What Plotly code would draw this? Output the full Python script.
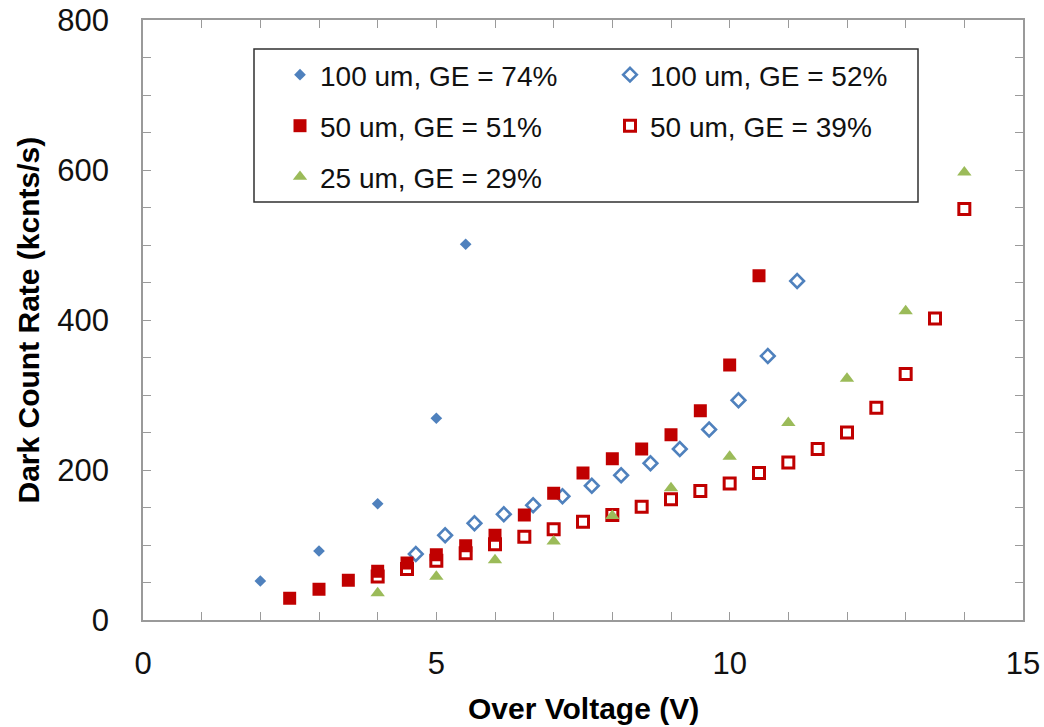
import plotly.graph_objects as go

# Dark count rate (kcnts/s) versus over voltage (V) for several SPAD diameters
ov_100_74 = [2, 3, 4, 5, 5.5]
dcr_100_74 = [52, 92, 155, 269, 501]

ov_100_52 = [4.65, 5.15, 5.65, 6.15, 6.65, 7.15, 7.65, 8.15, 8.65, 9.15, 9.65, 10.15, 10.65, 11.15]
dcr_100_52 = [88, 113, 129, 141, 153, 165, 179, 193, 209, 228, 254, 293, 352, 452]

ov_50_51 = [2.5, 3, 3.5, 4, 4.5, 5, 5.5, 6, 6.5, 7, 7.5, 8, 8.5, 9, 9.5, 10, 10.5]
dcr_50_51 = [29, 41, 53, 65, 76, 87, 99, 113, 140, 169, 196, 215, 228, 247, 279, 340, 459]

ov_50_39 = [4, 4.5, 5, 5.5, 6, 6.5, 7, 7.5, 8, 8.5, 9, 9.5, 10, 10.5, 11, 11.5, 12, 12.5, 13, 13.5, 14]
dcr_50_39 = [58, 68, 79, 89, 101, 111, 121, 131, 140, 151, 161, 172, 182, 196, 210, 228, 250, 283, 328, 402, 548]

ov_25_29 = [4, 5, 6, 7, 8, 9, 10, 11, 12, 13, 14]
dcr_25_29 = [36, 58, 80, 105, 139, 176, 218, 263, 322, 412, 597]

series_names = [
    "100 um, GE = 74%",
    "100 um, GE = 52%",
    "50 um, GE = 51%",
    "50 um, GE = 39%",
    "25 um, GE = 29%",
]

x_tick_vals = list(range(0, 16))
x_tick_text = [str(v) if v % 5 == 0 else "" for v in x_tick_vals]
y_tick_vals = list(range(0, 801, 50))
y_tick_text = [str(v) if v % 200 == 0 else "" for v in y_tick_vals]

BLUE = "#4F81BD"
RED = "#C00000"
GREEN = "#9BBB59"
AXIS_GREY = "#9A9A9A"

W, H = 1044, 727
L, R, T, B = 143, 21, 20, 107
PW, PH = W - L - R, H - T - B


def px_to_paper_x(px):
    return (px - L) / PW


def px_to_paper_y(py):
    return (H - B - py) / PH


fig = go.Figure()

fig.add_trace(go.Scatter(
    x=ov_100_74, y=dcr_100_74, mode="markers", name=series_names[0],
    marker=dict(symbol="diamond", size=9, color=BLUE, line=dict(width=0)),
    legend="legend",
))
fig.add_trace(go.Scatter(
    x=ov_100_52, y=dcr_100_52, mode="markers", name=series_names[1],
    marker=dict(symbol="diamond-open", size=10.5, color=BLUE, line=dict(width=2.6, color=BLUE)),
    legend="legend2",
))
fig.add_trace(go.Scatter(
    x=ov_50_51, y=dcr_50_51, mode="markers", name=series_names[2],
    marker=dict(symbol="square", size=13, color=RED, line=dict(width=0)),
    legend="legend3",
))
fig.add_trace(go.Scatter(
    x=ov_50_39, y=dcr_50_39, mode="markers", name=series_names[3],
    marker=dict(symbol="square-open", size=11, color=RED, line=dict(width=3, color=RED)),
    legend="legend4",
))
fig.add_trace(go.Scatter(
    x=ov_25_29, y=dcr_25_29, mode="markers", name=series_names[4],
    marker=dict(symbol="triangle-up", size=12.5, color=GREEN, line=dict(width=0)),
    legend="legend5",
))

# legend entries laid out as a 2-column grid inside a framed box
legend_font = dict(family="Liberation Sans, Arial, sans-serif", size=28, color="#111111")
col_x = [280, 610]
row_y = [75, 126, 177]
slots = [(0, 0), (1, 0), (0, 1), (1, 1), (0, 2)]
legend_layouts = {}
for i, (c, r) in enumerate(slots):
    key = "legend" if i == 0 else f"legend{i + 1}"
    legend_layouts[key] = dict(
        xref="paper", yref="paper",
        x=px_to_paper_x(col_x[c]), y=px_to_paper_y(row_y[r]),
        xanchor="left", yanchor="middle",
        bgcolor="rgba(0,0,0,0)", borderwidth=0,
        font=legend_font,
    )

axis_common = dict(
    showline=True, linecolor=AXIS_GREY, linewidth=1.5,
    mirror="ticks", ticks="inside", ticklen=8, tickwidth=1.2, tickcolor=AXIS_GREY,
    showgrid=False, zeroline=False,
    tickfont=dict(family="Liberation Sans, Arial, sans-serif", size=31, color="#111111"),
)

fig.update_layout(
    width=W, height=H,
    margin=dict(l=L, r=R, t=T, b=B, autoexpand=False),
    paper_bgcolor="white", plot_bgcolor="white",
    showlegend=True,
    xaxis=dict(
        range=[0, 15], tickmode="array", tickvals=x_tick_vals, ticktext=x_tick_text,
        ticklabelstandoff=15, tickangle=0, **axis_common,
    ),
    yaxis=dict(
        range=[0, 800], tickmode="array", tickvals=y_tick_vals, ticktext=y_tick_text,
        ticklabelstandoff=26, **axis_common,
    ),
    shapes=[dict(
        type="rect", xref="paper", yref="paper",
        x0=px_to_paper_x(254), x1=px_to_paper_x(918),
        y0=px_to_paper_y(202), y1=px_to_paper_y(49),
        line=dict(color="#303030", width=1.5), fillcolor="rgba(0,0,0,0)", layer="above",
    )],
    annotations=[
        dict(
            text="<b>Over Voltage (V)</b>", xref="paper", yref="paper",
            x=0.5, y=px_to_paper_y(708), xanchor="center", yanchor="middle", showarrow=False,
            font=dict(family="Liberation Sans, Arial, sans-serif", size=30, color="#000000"),
        ),
        dict(
            text="<b>Dark Count Rate (kcnts/s)</b>", xref="paper", yref="paper",
            x=px_to_paper_x(27.5), y=0.5, xanchor="center", yanchor="middle", showarrow=False,
            textangle=-90,
            font=dict(family="Liberation Sans, Arial, sans-serif", size=30, color="#000000"),
        ),
    ],
    **legend_layouts,
)

fig.write_html("out.html")
